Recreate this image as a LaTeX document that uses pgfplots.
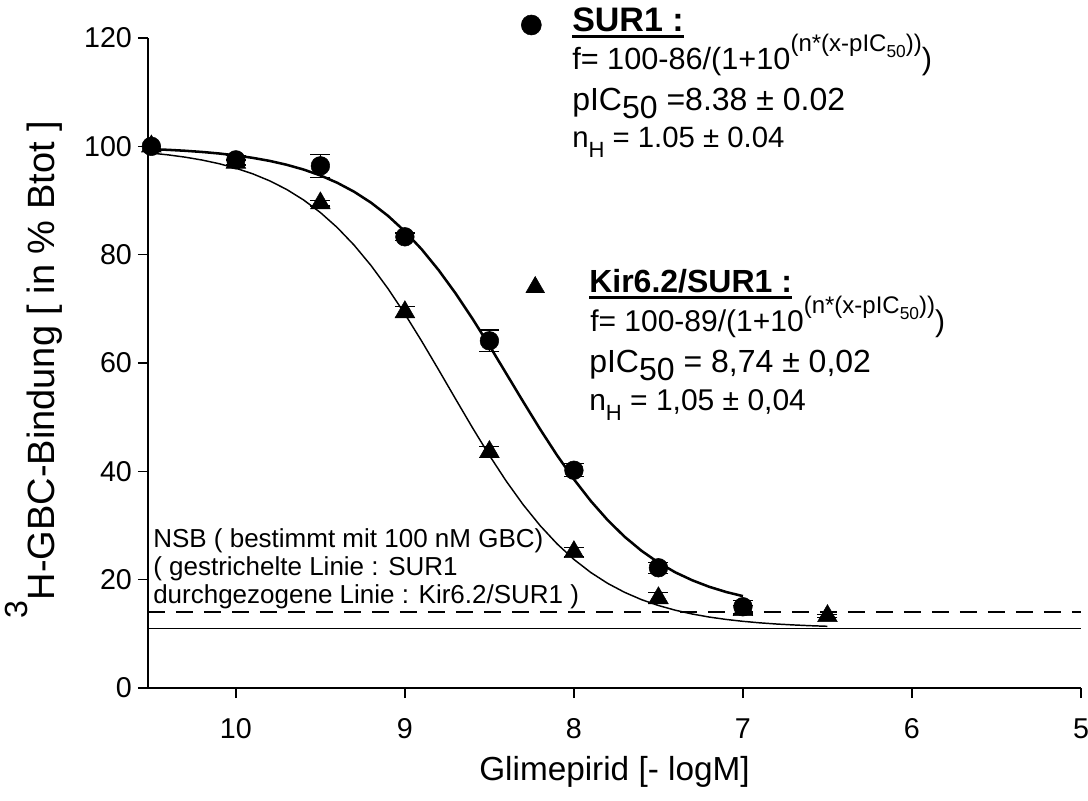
\documentclass[border=0pt]{standalone}
\usepackage{fontspec}
\setmainfont{Liberation Sans}
\usepackage{pgfplots}
\pgfplotsset{compat=1.18}
\usepackage{pgfplotstable}

% dicker Unterstrich fuer die Ueberschriften
\newcommand{\thickul}[1]{\vtop{\hbox{#1}\kern1.8pt\hrule height 2.4pt}}
\newcommand{\sups}[1]{\raisebox{0.6em}{\fontsize{18}{19}\selectfont #1}}
\newcommand{\subs}[1]{\raisebox{-0.25em}{\fontsize{13}{14}\selectfont #1}}

% Messwerte SUR1 (Kreise): x = -logM, y = % Btot, err
\pgfplotstableread{
x y err
10.5 100 0
10.0 97.5 0.8
9.5 96.4 2.1
9.0 83.3 0.7
8.5 64.1 2.0
8.0 40.2 1.2
7.5 22.2 1.0
7.0 15.0 1.2
}\surdata

% Messwerte Kir6.2/SUR1 (Dreiecke)
\pgfplotstableread{
x y err
10.5 100 0
10.0 97.0 0.5
9.5 89.5 0.5
9.0 69.4 1.0
8.5 43.6 1.0
8.0 25.1 0.8
7.5 16.6 1.0
7.0 14.4 0.8
6.5 13.3 0.3
}\kirdata

% Fitkurve SUR1: f = 100-86/(1+10^(1.05*(x-8.38)))
\pgfplotstableread{
x y
10.5 99.49
10.4 99.35
10.3 99.18
10.2 98.96
10.1 98.68
10.0 98.32
9.9 97.87
9.8 97.31
9.7 96.60
9.6 95.72
9.5 94.63
9.4 93.27
9.3 91.61
9.2 89.59
9.1 87.17
9.0 84.30
8.9 80.96
8.8 77.13
8.7 72.85
8.6 68.17
8.5 63.20
8.4 58.03
8.3 52.85
8.2 47.78
8.1 42.97
8.0 38.53
7.9 34.52
7.8 30.98
7.7 27.92
7.6 25.33
7.5 23.15
7.4 21.35
7.3 19.89
7.2 18.69
7.1 17.73
7.0 16.96
}\surfit

% Fitkurve Kir6.2/SUR1: f = 100-89/(1+10^(1.05*(x-8.74)))
\pgfplotstableread{
x y
10.5 98.75
10.4 98.42
10.3 98.00
10.2 97.47
10.1 96.80
10.0 95.96
9.9 94.92
9.8 93.63
9.7 92.05
9.6 90.11
9.5 87.78
9.4 85.00
9.3 81.74
9.2 77.98
9.1 73.73
9.0 69.04
8.9 64.00
8.8 58.72
8.7 53.35
8.6 48.04
8.5 42.94
8.4 38.17
8.3 33.83
8.2 29.98
8.1 26.62
8.0 23.74
7.9 21.32
7.8 19.31
7.7 17.66
7.6 16.31
7.5 15.23
7.4 14.36
7.3 13.66
7.2 13.10
7.1 12.66
7.0 12.31
6.9 12.03
6.8 11.81
6.7 11.64
6.6 11.50
6.5 11.39
}\kirfit

\begin{document}
\begin{tikzpicture}
\begin{axis}[
  width=699.75pt, height=487.5pt, scale only axis,
  xmin=5, xmax=10.52, x dir=reverse,
  ymin=0, ymax=120,
  axis x line=bottom, axis y line=left,
  axis line style={-, line width=1pt},
  xtick={5,6,7,8,9,10}, ytick={0,20,...,120},
  tick align=outside, major tick length=7.5pt,
  tick style={line width=1pt, black},
  /pgf/number format/assume math mode=true,
  tick label style={font=\fontsize{21.5}{24}\selectfont},
  xticklabel style={yshift=-12pt},
  yticklabel style={xshift=-1pt},
  clip=false,
  xlabel={Glimepirid [- logM]},
  xlabel style={at={(axis description cs:0.5,-0.143)}, anchor=base, font=\fontsize{25}{28}\selectfont},
  ylabel={\raisebox{0.72em}{\fontsize{24}{26}\selectfont 3}H-GBC-Bindung [ in \% Btot ]},
  ylabel style={at={(axis description cs:-0.0997,0.49)}, anchor=base, rotate=0, font=\fontsize{28.5}{30}\selectfont},
  error bars/error bar style={line width=1pt},
  error bars/error mark options={rotate=90, mark size=7.5pt, line width=1pt},
]

% NSB-Linien
\addplot[black, line width=1.1pt, dash pattern=on 13pt off 8pt] coordinates {(10.52,14) (5,14)};
\addplot[black, line width=1.1pt] coordinates {(10.52,11) (5,11)};

% Kir6.2/SUR1
\addplot[black, line width=1.1pt] table {\kirfit};
\addplot[only marks, mark=triangle*, mark size=8.5pt, black,
  error bars/.cd, y dir=both, y explicit] table[x=x, y=y, y error=err] {\kirdata};

% SUR1
\addplot[black, line width=1.9pt] table {\surfit};
\addplot[only marks, mark=*, mark size=7pt, black,
  error bars/.cd, y dir=both, y explicit] table[x=x, y=y, y error=err] {\surdata};

% Symbole der Beschriftung
\addplot[only marks, mark=*, mark size=7.5pt, black] coordinates {(8.252,122.4)};
\addplot[only marks, mark=triangle*, mark size=8pt, black] coordinates {(8.229,74.0)};
\end{axis}

% Texte in Pixelkoordinaten des Originals
\begin{scope}[x=0.75pt, y=-0.75pt, xshift=-111pt, yshift=516pt,
  every node/.style={inner sep=0pt, anchor=base west, font=\fontsize{23}{26}\selectfont}]
\node[font=\fontsize{25.5}{28}\selectfont] at (572,32) {\bfseries\thickul{SUR1 :}};
\node at (572,70) {f= 100-86/(1+10\sups{(n*(x-pIC\subs{50}))})};
\node[font=\fontsize{24}{27}\selectfont] at (572,111) {pIC\raisebox{-0.22em}{50} =8.38 ± 0.02};
\node[font=\fontsize{22}{25}\selectfont] at (572,148) {n\raisebox{-0.33em}{\fontsize{16.5}{18}\selectfont H} = 1.05 ± 0.04};

\node[font=\fontsize{24}{27}\selectfont] at (589,293) {\bfseries\thickul{Kir6.2/SUR1 :}};
\node[font=\fontsize{22.5}{25}\selectfont] at (590,332) {f= 100-89/(1+10\sups{(n*(x-pIC\subs{50}))})};
\node[font=\fontsize{24}{27}\selectfont] at (589,373) {pIC\raisebox{-0.22em}{50} = 8,74 ± 0,02};
\node[font=\fontsize{22.5}{25}\selectfont] at (589,411) {n\raisebox{-0.33em}{\fontsize{16.5}{18}\selectfont H} = 1,05 ± 0,04};

\node[font=\fontsize{19.5}{22}\selectfont] at (153,547) {NSB ( bestimmt mit 100 nM GBC)};
\node[font=\fontsize{19.5}{22}\selectfont] at (153,575) {( gestrichelte Linie : SUR1};
\node[font=\fontsize{19.5}{22}\selectfont] at (153,603) {durchgezogene Linie : Kir6.2/SUR1 )};

\pgfresetboundingbox
\path (0,0) rectangle (1088,800);
\end{scope}
\end{tikzpicture}
\end{document}
